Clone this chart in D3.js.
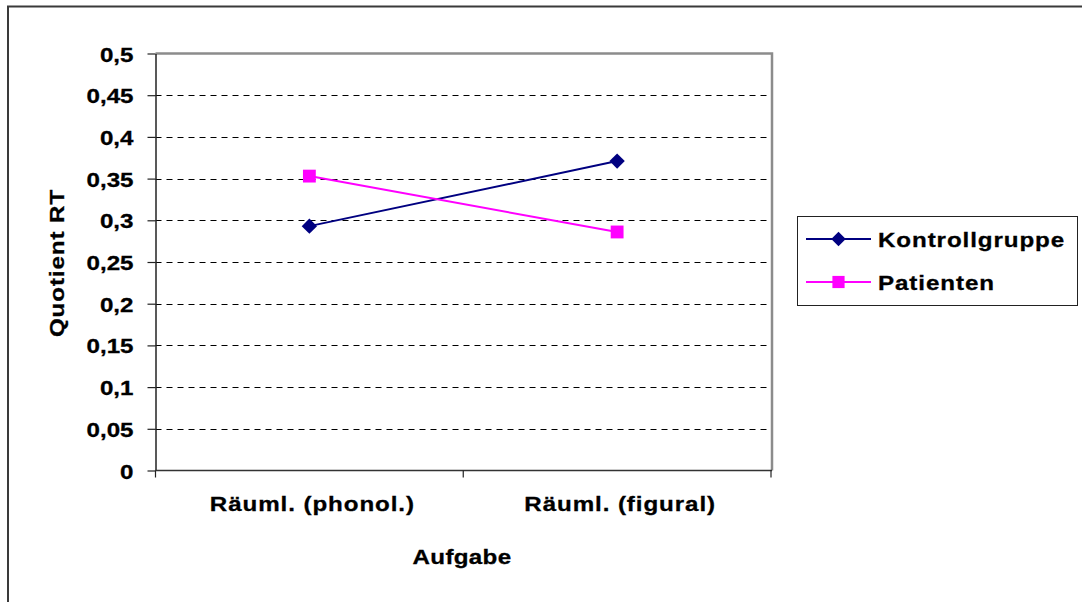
<!DOCTYPE html>
<html>
<head>
<meta charset="utf-8">
<script src="https://cdn.jsdelivr.net/npm/d3@7"></script>
<style>
  html, body { margin: 0; padding: 0; background: #fff; }
  svg { display: block; }
  text { font-family: "Liberation Sans", Arial, sans-serif; font-weight: bold; font-size: 21px; fill: #000; stroke: #000; stroke-width: 0.3px; }
</style>
</head>
<body>
<svg id="chart" width="1082" height="602"></svg>
<script>
// Aufgaben (categories) and group means of the RT quotient
const categories = ["Räuml. (phonol.)", "Räuml. (figural)"];
const kontrollgruppe = [0.293, 0.371];
const patienten = [0.353, 0.286];
const yTicks = [0, 0.05, 0.1, 0.15, 0.2, 0.25, 0.3, 0.35, 0.4, 0.45, 0.5];
const seriesNames = ["Kontrollgruppe", "Patienten"];

const series = [
  { name: seriesNames[0], values: kontrollgruppe, color: "#000080", symbol: d3.symbolDiamond2, size: 150 },
  { name: seriesNames[1], values: patienten, color: "#FF00FF", symbol: d3.symbolSquare, size: 165 }
];

const svg = d3.select("#chart");
const SX = 1.15; // horizontal stretch of the lettering

const plot = { left: 155.5, right: 771, top: 53.5, bottom: 470.5 };

const x = d3.scaleBand().domain(categories).range([plot.left, plot.right]).padding(0);
const y = d3.scaleLinear().domain([0, 0.5]).range([plot.bottom, plot.top]);

const fmt = v => String(+v.toFixed(2)).replace(".", ",");

// stretched text helper
function label(g, txt, px, py, anchor, spacing) {
  return g.append("text")
    .attr("transform", `translate(${px},${py}) scale(${SX},1)`)
    .attr("text-anchor", anchor)
    .style("letter-spacing", (spacing || 0) + "px")
    .text(txt);
}

// outer chart frame (only top and left edges visible)
svg.append("path")
  .attr("d", "M8,1000 L8,6.5 L1100,6.5")
  .attr("fill", "none").attr("stroke", "#3a3a3a").attr("stroke-width", 2);

// dashed gridlines
svg.append("g").selectAll("line")
  .data(yTicks.filter(t => t > 0 && t < 0.5))
  .join("line")
  .attr("x1", plot.left).attr("x2", plot.right)
  .attr("y1", d => Math.round(y(d)) + 0.5).attr("y2", d => Math.round(y(d)) + 0.5)
  .attr("stroke", "#000").attr("stroke-width", 1).attr("stroke-dasharray", "6,5");

// plot border (top and right)
svg.append("path")
  .attr("d", `M${plot.left},${plot.top} L${plot.right + 1},${plot.top} L${plot.right + 1},${plot.bottom}`)
  .attr("fill", "none").attr("stroke", "#8c8c8c").attr("stroke-width", 2.5);

// y axis
const yAxis = svg.append("g")
  .attr("transform", `translate(${plot.left},0)`)
  .call(d3.axisLeft(y).tickValues(yTicks).tickSize(8).tickFormat(fmt).tickSizeOuter(0));
yAxis.attr("font-family", null).attr("font-size", null);
yAxis.select(".domain").attr("stroke", "#222").attr("stroke-width", 1.5);
yAxis.selectAll(".tick line").attr("stroke", "#222").attr("stroke-width", 1.2);
yAxis.selectAll(".tick text")
  .attr("x", null).attr("dy", null).attr("fill", null)
  .attr("transform", `translate(-22,7.5) scale(${SX},1)`)
  .attr("text-anchor", "end");

// x axis: line with tick marks on category boundaries
const xg = svg.append("g");
xg.append("line")
  .attr("x1", plot.left).attr("x2", plot.right + 1)
  .attr("y1", plot.bottom).attr("y2", plot.bottom)
  .attr("stroke", "#333").attr("stroke-width", 1.5);
const bounds = categories.map(c => x(c)).concat([x(categories[categories.length - 1]) + x.bandwidth()]);
xg.selectAll("line.tk").data(bounds).join("line").attr("class", "tk")
  .attr("x1", d => d).attr("x2", d => d)
  .attr("y1", plot.bottom).attr("y2", plot.bottom + 7)
  .attr("stroke", "#222").attr("stroke-width", 1.2);
categories.forEach(c => label(xg, c, x(c) + x.bandwidth() / 2 + 3, 511, "middle", 0.8));

// axis titles
label(svg, "Aufgabe", 462, 564, "middle", 0.3);
svg.append("text")
  .attr("transform", `translate(64,263) rotate(-90) scale(${SX},1)`)
  .attr("text-anchor", "middle")
  .style("letter-spacing", "0.8px")
  .text("Quotient RT");

// series lines and markers
const cx = c => x(c) + x.bandwidth() / 2;
const line = d3.line().x((d, i) => cx(categories[i])).y(d => y(d));

series.forEach(s => {
  svg.append("path")
    .attr("d", line(s.values))
    .attr("fill", "none").attr("stroke", s.color).attr("stroke-width", 2);
  svg.append("g").selectAll("path")
    .data(s.values)
    .join("path")
    .attr("transform", (d, i) => `translate(${cx(categories[i])},${y(d)})`)
    .attr("d", d3.symbol().type(s.symbol).size(s.size))
    .attr("fill", s.color);
});

// legend
const lg = svg.append("g");
lg.append("rect")
  .attr("x", 797.5).attr("y", 216.5).attr("width", 280).attr("height", 89)
  .attr("fill", "#fff").attr("stroke", "#222").attr("stroke-width", 1);
series.forEach((s, i) => {
  const ly = 239 + i * 43;
  lg.append("line").attr("x1", 806).attr("x2", 871).attr("y1", ly).attr("y2", ly)
    .attr("stroke", s.color).attr("stroke-width", 2);
  lg.append("path")
    .attr("transform", `translate(838.5,${ly})`)
    .attr("d", d3.symbol().type(s.symbol).size(s.size * 0.9))
    .attr("fill", s.color);
  label(lg, s.name, 878, ly + 7.5, "start", 0.8);
});
</script>
</body>
</html>
